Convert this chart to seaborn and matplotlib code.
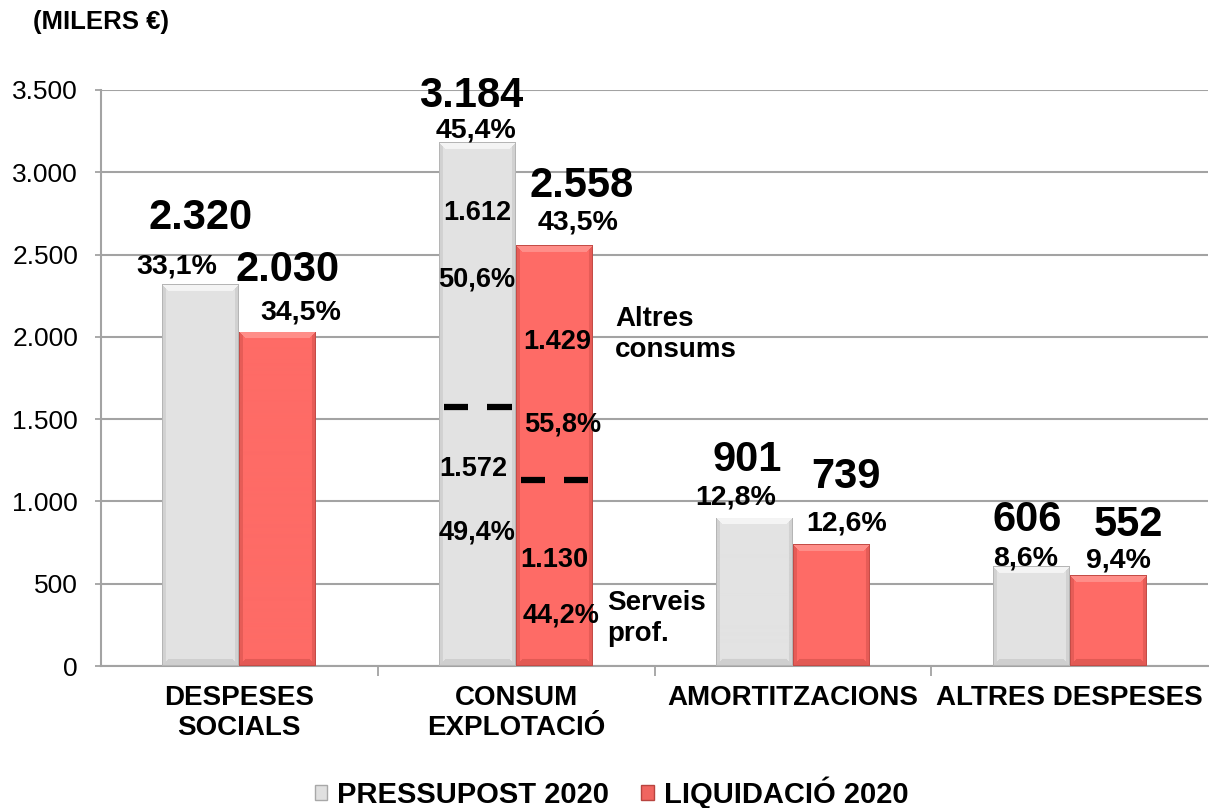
import matplotlib
matplotlib.use("Agg")
import matplotlib.pyplot as plt
from matplotlib.patches import Patch
from matplotlib.ticker import FuncFormatter, FixedLocator
from matplotlib.colors import to_rgb
import seaborn as sns
import pandas as pd
import numpy as np

# ---------------- data ----------------
categories = ["DESPESES\nSOCIALS", "CONSUM\nEXPLOTACIÓ", "AMORTITZACIONS", "ALTRES DESPESES"]
series = ["PRESSUPOST 2020", "LIQUIDACIÓ 2020"]
pressupost = [2320, 3184, 901, 606]
liquidacio = [2030, 2558, 739, 552]
pct_pressupost = ["33,1%", "45,4%", "12,8%", "8,6%"]
pct_liquidacio = ["34,5%", "43,5%", "12,6%", "9,4%"]
# CONSUM EXPLOTACIÓ split: [Serveis prof., Altres consums]
consum_pressupost = [1572, 1612]
consum_liquidacio = [1130, 1429]
consum_pct_pressupost = ["49,4%", "50,6%"]
consum_pct_liquidacio = ["44,2%", "55,8%"]
segment_names = ["Serveis\nprof.", "Altres\nconsums"]
yticks = [0, 500, 1000, 1500, 2000, 2500, 3000, 3500]

# ---------------- style ----------------
sns.set_theme(style="white")
plt.rcParams["font.family"] = ["Liberation Sans", "DejaVu Sans"]
plt.rcParams["text.color"] = "black"
plt.rcParams["xtick.labelcolor"] = "black"
plt.rcParams["ytick.labelcolor"] = "black"
GREY = "#E3E3E3"
RED = "#FE6B66"
GRID = "#A3A3A3"

df = pd.DataFrame({
    "categoria": categories * 2,
    "serie": [series[0]] * 4 + [series[1]] * 4,
    "valor": pressupost + liquidacio,
})

W, H = 1209, 808
fig = plt.figure(figsize=(W / 100, H / 100), dpi=100)
ax = fig.add_axes([101 / W, 1 - 666 / H, (1208 - 101) / W, (666 - 90) / H])

sns.barplot(data=df, x="categoria", y="valor", hue="serie", order=categories,
            hue_order=series, palette=[GREY, RED], width=0.556, gap=0,
            saturation=1, legend=False, ax=ax, zorder=3)

ax.set_xlim(-0.5, 3.5)
ax.set_ylim(0, 3500)


def bevel(p, base, light, side, bottom, edge):
    """Paint a bevelled look inside bar patch p (derived from its geometry)."""
    x0, w, h = p.get_x(), p.get_width(), p.get_height()
    (px0, py0), (px1, py1) = ax.transData.transform([(x0, 0), (x0 + w, h)])
    wp, hp = max(int(round(px1 - px0)), 2), max(int(round(py1 - py0)), 2)
    img = np.empty((hp, wp, 3))
    img[:] = to_rgb(base)
    b = 7
    ii, jj = np.mgrid[0:hp, 0:wp]
    dt, db, dl, dr = ii, hp - 1 - ii, jj, wp - 1 - jj
    dside = np.minimum(dl, dr)
    near = np.minimum(np.minimum(dt, db), dside)
    top_m = (dt == near) & (dt < b)
    bot_m = (db == near) & (db < b) & ~top_m
    side_m = (dside == near) & (dside < 4) & ~top_m & ~bot_m
    img[side_m] = to_rgb(side)
    img[bot_m] = to_rgb(bottom)
    img[top_m] = to_rgb(light)
    img[near == 0] = to_rgb(edge)
    im = ax.imshow(img, extent=(x0, x0 + w, 0, h), aspect="auto", origin="upper",
                   interpolation="bilinear", zorder=3.5)
    im.set_clip_path(p)


styles = [dict(base=GREY, light="#F4F4F4", side="#D2D2D2", bottom="#CFCFCF", edge="#B5B5B5"),
          dict(base=RED, light="#FF8E89", side="#E65C57", bottom="#E35A55", edge="#C44C47")]
for cont, st in zip(ax.containers, styles):
    for p in cont:
        p.set_linewidth(0)
        bevel(p, **st)

ax.set_xlim(-0.5, 3.5)
ax.set_ylim(0, 3500)
ax.set_xlabel("")
ax.set_ylabel("")
ax.yaxis.set_major_locator(FixedLocator(yticks))
ax.yaxis.set_major_formatter(FuncFormatter(lambda v, _: f"{int(v):,}".replace(",", ".")))
ax.grid(axis="y", color=GRID, linewidth=1.5, zorder=0)
ax.set_axisbelow(True)
for s in ["top", "right"]:
    ax.spines[s].set_visible(False)
for s in ["left", "bottom"]:
    ax.spines[s].set_color(GRID)
    ax.spines[s].set_linewidth(1.5)

ax.tick_params(axis="y", which="major", length=4.5, width=1.3, color=GRID,
               pad=12, labelsize=19, left=True)
ax.tick_params(axis="x", which="major", length=0, pad=14, labelsize=20)
ax.set_xticks(range(4))
ax.set_xticklabels(categories, fontweight="bold", linespacing=1.2)
ax.set_xticks([0.5, 1.5, 2.5], minor=True)
ax.tick_params(axis="x", which="minor", length=7, width=1.3, color=GRID, bottom=True)

# ------------- bar top labels -------------
# (dx, dy) pixel offsets from bar top centre: value label, pct label
val_off = [[(0, 66), (-6, 46), (-7, 58), (-4, 46)],
           [(10, 62), (27, 59), (15, 67), (20, 50)]]
pct_off = [[(-24, 18), (-2, 12), (-19, 20), (-6, 8)],
           [(23, 19), (23, 23), (15, 21), (10, 15)]]
pcts = [pct_pressupost, pct_liquidacio]
vals = [pressupost, liquidacio]
for si, cont in enumerate(ax.containers):
    for ci, p in enumerate(cont):
        cx = p.get_x() + p.get_width() / 2
        top = p.get_height()
        dx, dy = val_off[si][ci]
        ax.annotate(f"{vals[si][ci]:,}".replace(",", "."), (cx, top),
                    xytext=(dx, dy), textcoords="offset pixels",
                    ha="center", va="center", fontsize=30, fontweight="bold", zorder=5)
        dx, dy = pct_off[si][ci]
        ax.annotate(pcts[si][ci], (cx, top), xytext=(dx, dy), textcoords="offset pixels",
                    ha="center", va="center", fontsize=20.5, fontweight="bold", zorder=5)

# ------------- CONSUM EXPLOTACIÓ segments -------------
segs = [consum_pressupost, consum_liquidacio]
seg_pcts = [consum_pct_pressupost, consum_pct_liquidacio]
# offsets from segment mid: (value label), (pct label)
seg_val_off = [[(-4, 68), (0, 62)], [(0, 13), (3, 20)]]
seg_pct_off = [[(-1, 4), (-1, -5)], [(6, -42), (8, -62)]]
for si, cont in enumerate(ax.containers):
    p = cont[1]
    cx = p.get_x() + p.get_width() / 2
    x0, w = p.get_x(), p.get_width()
    base = 0
    for k, v in enumerate(segs[si]):
        mid = base + v / 2
        dx, dy = seg_val_off[si][k]
        ax.annotate(f"{v:,}".replace(",", "."), (cx, mid), xytext=(dx, dy),
                    textcoords="offset pixels", ha="center", va="center",
                    fontsize=19.5, fontweight="bold", zorder=5)
        dx, dy = seg_pct_off[si][k]
        ax.annotate(seg_pcts[si][k], (cx, mid), xytext=(dx, dy),
                    textcoords="offset pixels", ha="center", va="center",
                    fontsize=19.5, fontweight="bold", zorder=5)
        if si == 1:
            off = [(14, -45), (22, 28)][k]
            ax.annotate(segment_names[k], (x0 + w, mid), xytext=off,
                        textcoords="offset pixels", ha="left", va="center",
                        fontsize=20, fontweight="bold", linespacing=1.25, zorder=5)
        base += v
    # dashed split marker at the boundary
    b = segs[si][0]
    ax.hlines([b, b], [x0 + 0.06 * w, x0 + 0.62 * w], [x0 + 0.38 * w, x0 + 0.94 * w],
              colors="black", linewidth=4.5, zorder=6)

# ------------- title & legend -------------
fig.text(33 / W, 1 - 22 / H, "(MILERS €)", ha="left", va="center",
         fontsize=18.5, fontweight="bold")

handles = [Patch(facecolor="#E0E0E0", edgecolor="#A8A8A8", linewidth=1.0),
           Patch(facecolor="#F06560", edgecolor="#B8443F", linewidth=1.0)]
leg = fig.legend(handles, series, loc="center", bbox_to_anchor=(0.506, 1 - 793 / H),
                 ncol=2, frameon=False, handlelength=0.42, handleheight=0.42,
                 handletextpad=0.35, columnspacing=1.1, borderpad=0.1,
                 prop={"size": 21, "weight": "bold"})

fig.savefig("out.png", dpi=100)
